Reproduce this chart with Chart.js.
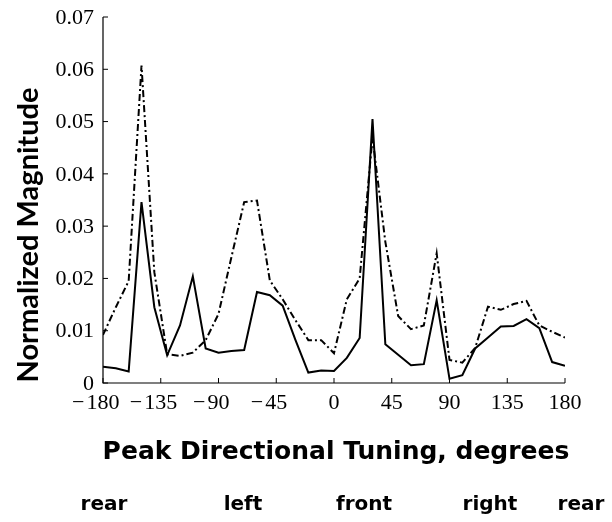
<!DOCTYPE html>
<html>
<head>
<meta charset="utf-8">
<script src="https://cdn.jsdelivr.net/npm/chart.js@4.4.1/dist/chart.umd.min.js"></script>
<style>
html,body{margin:0;padding:0;background:#fff;}
#wrap{width:612px;height:522px;position:relative;}
</style>
</head>
<body>
<div id="wrap"><canvas id="c" width="612" height="522"></canvas></div>
<script>
const angles = [-180,-170,-160,-150,-140,-130,-120,-110,-100,-90,-80,-70,-60,-50,-40,-30,-20,-10,0,10,20,30,40,50,60,70,80,90,100,110,120,130,140,150,160,170,180];
const solidValues = [0.0031,0.0028,0.0022,0.0346,0.0145,0.0053,0.0110,0.0204,0.0066,0.0058,0.0061,0.0063,0.0174,0.0168,0.0148,0.0082,0.0020,0.0024,0.0023,0.0048,0.0086,0.0505,0.0074,0.0054,0.0034,0.0036,0.0158,0.0008,0.0015,0.0066,0.0087,0.0108,0.0109,0.0122,0.0105,0.0040,0.0033];
const dashDotValues = [0.0092,0.0145,0.0195,0.0607,0.0212,0.0055,0.0052,0.0058,0.0082,0.0132,0.0240,0.0346,0.0349,0.0196,0.0160,0.0120,0.0082,0.0082,0.0057,0.0160,0.0200,0.0470,0.0270,0.0128,0.0103,0.0110,0.0248,0.0044,0.0039,0.0067,0.0146,0.0140,0.0151,0.0157,0.0110,0.0098,0.0087];
const xTicks = [-180,-135,-90,-45,0,45,90,135,180];
const yTicks = [0,0.01,0.02,0.03,0.04,0.05,0.06,0.07];
const xTitle = "Peak Directional Tuning, degrees";
const yTitle = "Normalized Magnitude";
const directionLabels = ["rear","left","front","right","rear"];
const directionPositions = [104,243,364,490,581];

const serif = "'Liberation Serif','DejaVu Serif',serif";
const sans = "'DejaVu Sans','Noto Sans',sans-serif";
const ysans = "'Lato','Noto Sans',sans-serif";

const decor = {
  id:'decor',
  afterDraw(chart){
    const ctx = chart.ctx;
    const xs = chart.scales.x, ys = chart.scales.y;
    const a = chart.chartArea;
    ctx.save();
    ctx.strokeStyle = '#000';
    ctx.lineWidth = 1.2;
    ctx.beginPath();
    ctx.moveTo(a.left, a.top);
    ctx.lineTo(a.left, a.bottom);
    ctx.lineTo(a.right, a.bottom);
    ctx.stroke();
    ctx.lineWidth = 1;
    ctx.fillStyle = '#000';
    ctx.font = "22px " + serif;
    ctx.textBaseline = 'middle';
    xTicks.forEach(v=>{
      const px = xs.getPixelForValue(v);
      ctx.beginPath(); ctx.moveTo(px, a.bottom); ctx.lineTo(px, a.bottom-5); ctx.stroke();
      const digits = String(Math.abs(v));
      ctx.textAlign = 'center';
      ctx.fillText(digits, px, a.bottom + 20);
      if (v < 0) {
        const w = ctx.measureText(digits).width;
        ctx.textAlign = 'right';
        ctx.fillText('\u2212', px - w/2 - 2, a.bottom + 20);
      }
    });
    ctx.textAlign = 'right';
    yTicks.forEach(v=>{
      const py = ys.getPixelForValue(v);
      ctx.beginPath(); ctx.moveTo(a.left, py); ctx.lineTo(a.left+5, py); ctx.stroke();
      ctx.fillText(v===0 ? '0' : v.toFixed(2), a.left - 9, py + 1);
    });
    ctx.textAlign = 'center';
    ctx.font = "bold 25px " + sans;
    ctx.fillText(xTitle, 336, 452);
    ctx.save();
    ctx.translate(29, 235);
    ctx.rotate(-Math.PI/2);
    ctx.font = "bold 29px " + ysans;
    ctx.fillText(yTitle, 0, 0);
    ctx.restore();
    ctx.font = "bold 20px " + sans;
    directionLabels.forEach((t,i)=>{
      ctx.fillText(t, directionPositions[i], 505);
    });
    ctx.restore();
  }
};

new Chart(document.getElementById('c'), {
  type:'line',
  data:{
    datasets:[
      {data: angles.map((a,i)=>({x:a,y:solidValues[i]})), borderColor:'#000', borderWidth:2, pointRadius:0, tension:0, fill:false},
      {data: angles.map((a,i)=>({x:a,y:dashDotValues[i]})), borderColor:'#000', borderWidth:2, borderDash:[7,3,2,3], pointRadius:0, tension:0, fill:false}
    ]
  },
  options:{
    responsive:false,
    animation:false,
    events:[],
    layout:{padding:{left:0,right:47,top:17,bottom:0}},
    plugins:{legend:{display:false}, tooltip:{enabled:false}},
    scales:{
      x:{
        type:'linear', min:-180, max:180,
        afterBuildTicks(s){ s.ticks = xTicks.map(v=>({value:v})); },
        afterFit(s){ s.height = 139; },
        grid:{display:false, drawTicks:false},
        border:{display:false},
        ticks:{display:false}
      },
      y:{
        min:0, max:0.07,
        afterBuildTicks(s){ s.ticks = yTicks.map(v=>({value:v})); },
        afterFit(s){ s.width = 103; },
        grid:{display:false, drawTicks:false},
        border:{display:false},
        ticks:{display:false}
      }
    }
  },
  plugins:[decor]
});
</script>
</body>
</html>
